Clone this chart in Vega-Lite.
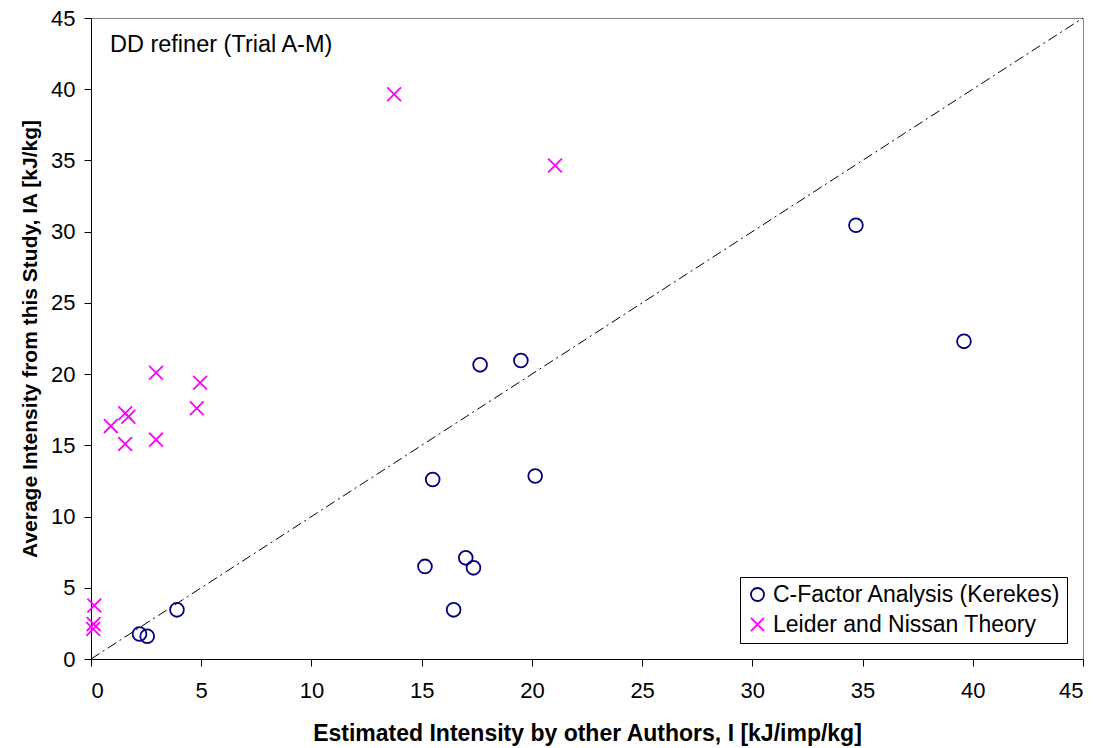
{
  "$schema": "https://vega.github.io/schema/vega-lite/v6.json",
  "width": 992,
  "height": 641,
  "autosize": {"type": "none"},
  "padding": {"left": 91, "top": 18, "right": 16, "bottom": 89},
  "background": "white",
  "config": {
    "font": "Liberation Sans",
    "view": {"stroke": "#888888", "strokeWidth": 1},
    "axis": {
      "grid": false,
      "domainColor": "black",
      "tickColor": "black",
      "tickSize": 7,
      "labelFont": "Liberation Sans",
      "labelFontSize": 22,
      "labelColor": "black",
      "titleFont": "Liberation Sans",
      "titleFontSize": 21,
      "titleFontWeight": "bold",
      "titleColor": "black"
    }
  },
  "datasets": {
    "points": [
      {"x": 39.6, "y": 22.3, "series": "C-Factor Analysis (Kerekes)"},
      {"x": 34.7, "y": 30.45, "series": "C-Factor Analysis (Kerekes)"},
      {"x": 17.65, "y": 20.65, "series": "C-Factor Analysis (Kerekes)"},
      {"x": 19.5, "y": 20.95, "series": "C-Factor Analysis (Kerekes)"},
      {"x": 15.5, "y": 12.6, "series": "C-Factor Analysis (Kerekes)"},
      {"x": 20.15, "y": 12.85, "series": "C-Factor Analysis (Kerekes)"},
      {"x": 15.15, "y": 6.5, "series": "C-Factor Analysis (Kerekes)"},
      {"x": 17.0, "y": 7.1, "series": "C-Factor Analysis (Kerekes)"},
      {"x": 17.35, "y": 6.4, "series": "C-Factor Analysis (Kerekes)"},
      {"x": 16.45, "y": 3.45, "series": "C-Factor Analysis (Kerekes)"},
      {"x": 3.9, "y": 3.45, "series": "C-Factor Analysis (Kerekes)"},
      {"x": 2.2, "y": 1.75, "series": "C-Factor Analysis (Kerekes)"},
      {"x": 2.55, "y": 1.6, "series": "C-Factor Analysis (Kerekes)"},
      {"x": 13.75, "y": 39.65, "series": "Leider and Nissan Theory"},
      {"x": 21.05, "y": 34.65, "series": "Leider and Nissan Theory"},
      {"x": 2.95, "y": 20.1, "series": "Leider and Nissan Theory"},
      {"x": 4.95, "y": 19.4, "series": "Leider and Nissan Theory"},
      {"x": 4.8, "y": 17.6, "series": "Leider and Nissan Theory"},
      {"x": 2.95, "y": 15.4, "series": "Leider and Nissan Theory"},
      {"x": 1.55, "y": 17.25, "series": "Leider and Nissan Theory"},
      {"x": 1.7, "y": 17.0, "series": "Leider and Nissan Theory"},
      {"x": 0.9, "y": 16.35, "series": "Leider and Nissan Theory"},
      {"x": 1.55, "y": 15.1, "series": "Leider and Nissan Theory"},
      {"x": 0.15, "y": 3.75, "series": "Leider and Nissan Theory"},
      {"x": 0.12, "y": 2.45, "series": "Leider and Nissan Theory"},
      {"x": 0.1, "y": 2.1, "series": "Leider and Nissan Theory"}
    ],
    "diag": [{"x": 0, "y": 0}, {"x": 45, "y": 45}],
    "note": [{"x": 0.86, "y": 43.1, "label": "DD refiner (Trial A-M)"}]
  },
  "layer": [
    {
      "data": {"name": "diag"},
      "mark": {"type": "line", "color": "black", "strokeWidth": 1, "strokeDash": [10, 4, 2, 4]},
      "encoding": {
        "x": {"field": "x", "type": "quantitative"},
        "y": {"field": "y", "type": "quantitative"}
      }
    },
    {
      "data": {"name": "note"},
      "mark": {"type": "text", "align": "left", "baseline": "middle", "fontSize": 23.5, "font": "Liberation Sans", "color": "black"},
      "encoding": {
        "x": {"field": "x", "type": "quantitative"},
        "y": {"field": "y", "type": "quantitative"},
        "text": {"field": "label"}
      }
    },
    {
      "data": {"name": "points"},
      "mark": {"type": "point", "filled": false, "strokeWidth": 1.8, "size": 190, "opacity": 1},
      "encoding": {
        "x": {
          "field": "x", "type": "quantitative",
          "scale": {"domain": [0, 45], "nice": false, "zero": true},
          "axis": {"values": [0, 5, 10, 15, 20, 25, 30, 35, 40, 45], "labelPadding": 14, "titlePadding": 21, "titleFontSize": 23,
                   "title": "Estimated Intensity by other Authors, I  [kJ/imp/kg]"}
        },
        "y": {
          "field": "y", "type": "quantitative",
          "scale": {"domain": [0, 45], "nice": false},
          "axis": {"values": [0, 5, 10, 15, 20, 25, 30, 35, 40, 45], "labelPadding": 9, "titlePadding": 10,
                   "title": "Average Intensity from this Study, IA  [kJ/kg]"}
        },
        "color": {
          "field": "series", "type": "nominal",
          "scale": {"domain": ["C-Factor Analysis (Kerekes)", "Leider and Nissan Theory"], "range": ["#000080", "#FF00FF"]},
          "legend": {
            "title": null,
            "orient": "bottom-right",
            "offset": 16,
            "strokeColor": "black",
            "fillColor": "white",
            "padding": 6,
            "labelFontSize": 23,
            "labelFont": "Liberation Sans",
            "labelColor": "black",
            "labelLimit": 0,
            "symbolSize": 170,
            "symbolStrokeWidth": 1.8,
            "labelOffset": 4,
            "rowPadding": 6
          }
        },
        "shape": {
          "field": "series", "type": "nominal",
          "scale": {"domain": ["C-Factor Analysis (Kerekes)", "Leider and Nissan Theory"], "range": ["circle", "M-1,-1L1,1M-1,1L1,-1"]},
          "legend": null
        }
      }
    }
  ]
}
